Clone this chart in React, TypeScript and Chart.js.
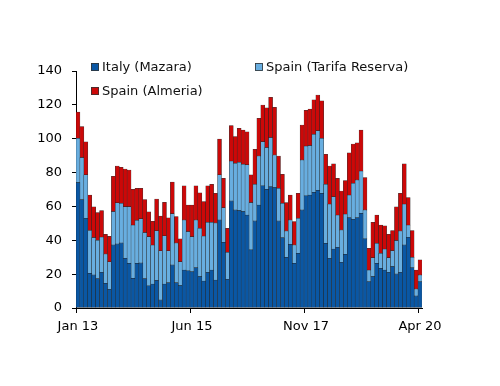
import React, { useEffect, useRef } from 'react';
import { Chart, registerables } from 'chart.js';

Chart.register(...registerables);

const monthNames = ['Jan', 'Feb', 'Mar', 'Apr', 'May', 'Jun', 'Jul', 'Aug', 'Sep', 'Oct', 'Nov', 'Dec'];
const years = ['13', '14', '15', '16', '17', '18', '19', '20'];
const categories: string[] = [];
years.forEach((y, yi) => {
  monthNames.forEach((m, mi) => {
    if (yi === years.length - 1 && mi > 3) return;
    categories.push(`${m} ${y}`);
  });
});

const shownTicks = ['Jan 13', 'Jun 15', 'Nov 17', 'Apr 20'];

const seriesNames = ['Italy (Mazara)', 'Spain (Tarifa Reserva)', 'Spain (Almeria)'];
const seriesColors = ['#0a57a4', '#68aee0', '#cc0808'];

const italy = [74.1, 64.1, 53.0, 20.5, 19.5, 17.4, 21.1, 14.5, 11.1, 37.2, 37.8, 38.4, 29.4, 26.4, 17.5, 26.4, 26.6, 17.4, 13.1, 14.1, 16.4, 4.7, 14.1, 14.9, 25.4, 14.9, 13.2, 22.4, 21.9, 21.4, 23.8, 18.5, 15.9, 21.1, 22.4, 16.5, 52.0, 38.8, 17.0, 63.2, 57.9, 57.5, 56.9, 54.9, 34.3, 51.4, 60.8, 72.1, 70.1, 71.6, 71.1, 51.4, 41.5, 29.9, 37.6, 26.4, 32.3, 57.9, 66.2, 66.7, 68.3, 69.5, 67.7, 38.2, 29.4, 34.8, 35.9, 27.0, 31.7, 53.3, 52.4, 53.3, 55.9, 40.8, 15.5, 18.5, 26.4, 23.4, 22.4, 21.1, 24.4, 20.1, 21.1, 37.2, 41.8, 23.8, 7.1, 15.5];
const tarifa = [26.1, 24.7, 25.6, 25.3, 22.1, 22.6, 20.8, 17.4, 16.1, 19.7, 24.3, 23.4, 30.4, 33.4, 31.5, 25.4, 26.1, 27.1, 29.0, 23.0, 29.2, 29.0, 28.5, 18.8, 30.3, 23.5, 14.1, 29.6, 23.2, 20.7, 28.2, 28.6, 26.6, 29.5, 28.2, 33.7, 26.6, 20.4, 15.9, 23.6, 27.6, 28.6, 28.0, 29.6, 27.9, 21.7, 29.0, 26.1, 24.6, 29.0, 19.3, 19.3, 20.3, 15.6, 14.4, 10.8, 20.7, 29.5, 29.4, 29.2, 34.3, 35.2, 32.5, 34.9, 32.0, 30.9, 19.0, 19.1, 23.8, 13.4, 21.3, 22.3, 25.0, 17.1, 6.9, 11.2, 11.8, 8.9, 12.4, 8.6, 9.4, 19.7, 24.4, 24.2, 7.2, 6.1, 4.1, 4.0];
const almeria = [15.5, 18.4, 19.6, 20.9, 18.1, 16.4, 15.6, 11.6, 15.2, 20.9, 21.8, 21.3, 22.3, 21.7, 21.1, 18.9, 18.0, 19.5, 14.7, 14.1, 18.8, 20.6, 19.8, 19.5, 18.7, 15.6, 13.5, 20.2, 15.7, 18.7, 20.1, 21.0, 20.3, 21.6, 22.5, 17.5, 21.2, 17.4, 14.2, 20.9, 15.7, 20.0, 20.2, 19.6, 16.4, 20.6, 22.2, 21.7, 23.6, 23.9, 28.1, 19.1, 17.2, 16.7, 14.7, 13.8, 14.7, 20.7, 21.1, 21.6, 20.3, 21.1, 22.2, 17.7, 22.5, 19.4, 21.7, 23.0, 19.7, 25.0, 23.2, 22.0, 24.2, 19.1, 12.9, 20.9, 16.7, 16.7, 13.8, 13.8, 11.9, 20.0, 22.2, 23.7, 16.2, 15.8, 11.2, 8.9];

const FONT = "'DejaVu Sans', Verdana, sans-serif";

const legendPlugin = {
  id: 'customLegend',
  afterDraw(chart: any) {
    const ctx = chart.ctx as CanvasRenderingContext2D;
    const spots = [
      { x: 91, y: 67 },
      { x: 255, y: 67 },
      { x: 91, y: 91 },
    ];
    ctx.save();
    ctx.font = `13px ${FONT}`;
    ctx.textBaseline = 'middle';
    ctx.textAlign = 'left';
    chart.data.datasets.forEach((ds: any, i: number) => {
      const s = spots[i];
      if (!s) return;
      ctx.fillStyle = ds.backgroundColor;
      ctx.fillRect(s.x, s.y - 4, 8, 8);
      ctx.strokeStyle = '#333';
      ctx.lineWidth = 0.8;
      ctx.strokeRect(s.x + 0.5, s.y - 3.5, 7, 7);
      ctx.fillStyle = '#111';
      ctx.fillText(ds.label, s.x + 11, s.y + 0.5);
    });
    ctx.restore();
  },
};

export default function App() {
  const ref = useRef<HTMLCanvasElement | null>(null);

  useEffect(() => {
    if (!ref.current) return;
    const values = [italy, tarifa, almeria];
    const chart = new Chart(ref.current, {
      type: 'bar',
      data: {
        labels: categories,
        datasets: seriesNames.map((name, i) => ({
          label: name,
          data: values[i],
          backgroundColor: seriesColors[i],
          borderColor: 'rgba(20,20,20,0.85)',
          borderWidth: 0.5,
          borderSkipped: false,
          barPercentage: 1,
          categoryPercentage: 1,
        })),
      },
      options: {
        responsive: false,
        animation: false,
        events: [],
        layout: { padding: { top: 71, right: 78, bottom: 0, left: 0 } },
        plugins: {
          legend: { display: false },
          tooltip: { enabled: false },
          title: { display: false },
        },
        scales: {
          x: {
            stacked: true,
            afterFit: (scale: any) => {
              scale.height = 78;
            },
            grid: {
              display: true,
              drawOnChartArea: false,
              drawTicks: true,
              offset: true,
              tickLength: 5,
              color: (c: any) => (shownTicks.includes(categories[c.index]) ? '#000' : 'rgba(0,0,0,0)'),
            },
            border: { display: true, color: '#000', width: 1 },
            ticks: {
              autoSkip: false,
              maxRotation: 0,
              minRotation: 0,
              padding: 6,
              color: '#000',
              font: { family: FONT, size: 13 },
              callback: (_v: any, index: number) => (shownTicks.includes(categories[index]) ? categories[index] : ''),
            },
          },
          y: {
            stacked: true,
            min: 0,
            max: 140,
            afterFit: (scale: any) => {
              scale.width = 76;
            },
            grid: {
              display: true,
              drawOnChartArea: false,
              drawTicks: true,
              tickLength: 4,
              color: '#000',
            },
            border: { display: true, color: '#000', width: 1 },
            ticks: {
              stepSize: 20,
              padding: 10,
              color: '#000',
              font: { family: FONT, size: 13 },
            },
          },
        },
      },
      plugins: [legendPlugin],
    });
    return () => chart.destroy();
  }, []);

  return (
    <div style={{ position: 'absolute', left: 0, top: 0, width: 500, height: 386, background: '#fff' }}>
      <canvas ref={ref} width={500} height={386} style={{ display: 'block' }} />
    </div>
  );
}
